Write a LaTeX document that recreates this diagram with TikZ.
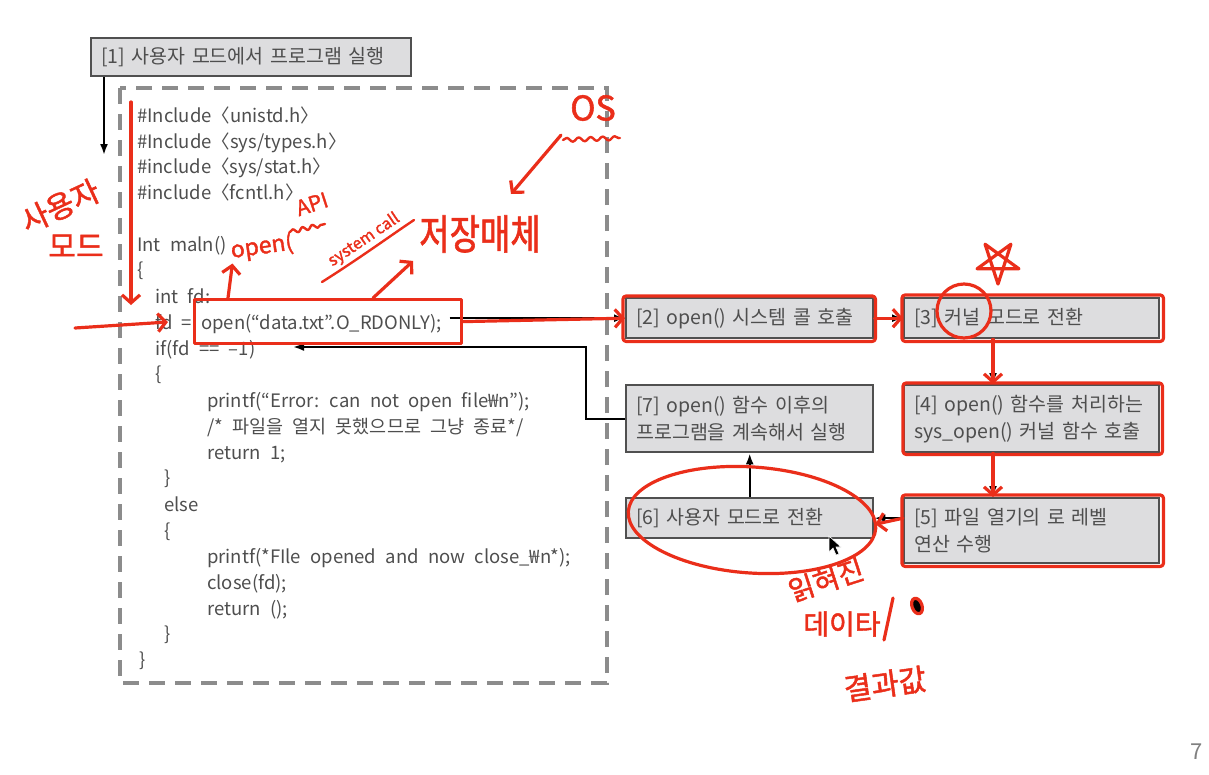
\documentclass[tikz,border=0pt]{standalone}
\usepackage{fontspec}
\setmainfont{Noto Sans CJK KR}
\newfontfamily\handfont[FakeBold=1.6]{Noto Sans CJK KR}
\usetikzlibrary{arrows.meta,decorations.pathmorphing}
\definecolor{boxfill}{RGB}{221,221,223}
\definecolor{boxline}{RGB}{80,80,80}
\definecolor{codegray}{RGB}{78,78,78}
\definecolor{dashgray}{RGB}{140,140,140}
\definecolor{pen}{RGB}{234,46,26}
\newcommand{\widegaps}{\spaceskip=0.5em\relax}
\newcommand{\handsize}[1]{\handfont\fontsize{#1}{#1}\selectfont}

\begin{document}
\begin{tikzpicture}[x=1pt,y=-1pt,
  stepbox/.style={draw=boxline,fill=boxfill,line width=2.4pt,anchor=north west,
    inner xsep=10pt,inner ysep=0pt,align=left,text=codegray,
    font=\fontsize{19.5}{27}\selectfont\widegaps},
  codeline/.style={anchor=base west,inner sep=0pt,text=codegray,
    font=\fontsize{18.5}{20}\selectfont\widegaps},
  flow/.style={line width=2pt,-{Latex[length=11pt,width=8pt]}},
  pen/.style={draw=pen,line width=3.2pt,line cap=round,line join=round},
  penarrow/.style={pen,-{Straight Barb[length=8pt,width=18pt]}},
  scribble/.style={text=pen,inner sep=0pt,font=\handsize{30}}]

\useasboundingbox (0,0) rectangle (1209,774);

\node[stepbox,text width=300pt,minimum height=38pt] (s1) at (90,37) {{[1]} 사용자 모드에서 프로그램 실행};

\draw[dashgray,line width=3.5pt,dash pattern=on 16pt off 10pt] (120,88) rectangle (607,683);

\node[codeline] (c1) at (137,122) {\#Include〈unistd.h〉};
\node[codeline] (c2) at (137,148) {\#Include〈sys/types.h〉};
\node[codeline] (c3) at (137,173) {\#include〈sys/stat.h〉};
\node[codeline] (c4) at (137,199) {\#include〈fcntl.h〉};
\node[codeline] (c5) at (137,251) {Int maln()};
\node[codeline] (c6) at (137,276) {\{};
\node[codeline] (c7) at (155,303) {int fd:};
\node[codeline] (c8) at (155,329) {fd = open(“data.txt”.O\_RDONLY);};
\node[codeline] (c9) at (155,355) {if(fd == --1)};
\node[codeline] (c10) at (155,380) {\{};
\node[codeline] (c11) at (207,407) {printf(“Error: can not open file₩n”);};
\node[codeline] (c12) at (207,433) {/* 파일을 열지 못했으므로 그냥 종료*/};
\node[codeline] (c13) at (207,459) {return 1;};
\node[codeline] (c14) at (164,484) {\}};
\node[codeline] (c15) at (164,511) {else};
\node[codeline] (c16) at (164,537) {\{};
\node[codeline] (c17) at (207,563) {printf(*FIle opened and now close\_₩n*);};
\node[codeline] (c18) at (207,589) {close(fd);};
\node[codeline] (c19) at (207,615) {return ();};
\node[codeline] (c20) at (164,640) {\}};
\node[codeline] (c21) at (139,666) {\}};

\node[stepbox,text width=227pt,minimum height=40pt] (s2) at (625,297) {{[2]} open() 시스템 콜 호출};
\node[stepbox,text width=235pt,minimum height=40pt] (s3) at (903,297) {{[3]} 커널 모드로 전환};
\node[stepbox,text width=227pt,minimum height=67pt] (s7) at (625,384) {{[7]} open() 함수 이후의\\프로그램을 계속해서 실행};
\node[stepbox,text width=235pt,minimum height=67pt] (s4) at (903,384) {{[4]} open() 함수를 처리하는\\sys\_open() 커널 함수 호출};
\node[stepbox,text width=227pt,minimum height=40pt] (s6) at (625,497) {{[6]} 사용자 모드로 전환};
\node[stepbox,text width=235pt,minimum height=65pt] (s5) at (903,497) {{[5]} 파일 열기의 로 레벨\\연산 수행};

\coordinate (modetip) at (104,155);
\coordinate (kx) at (993,0);
\coordinate (iftip) at (293,347);

\draw[flow] (s1.south -| modetip) -- (modetip);
\draw[flow] ([xshift=8pt]c8.east |- s2.west) -- (s2.west);
\draw[flow] (s2) -- (s3);
\draw[flow] (s3.south -| kx) -- (s4.north -| kx);
\draw[flow] (s4.south -| kx) -- (s5.north -| kx);
\draw[flow] (s5.west |- s6.east) -- (s6.east);
\draw[flow] (s6) -- (s7);
\draw[flow] (s7.west) -- ++(-39,0) |- (iftip);

% red pen notes
\node[pen,anchor=north west,minimum width=267pt,minimum height=44pt,inner sep=0pt] (hl) at (193,298) {};
\draw[pen,rounded corners=3pt] ([shift={(-2,-1)}]s2.north west) rectangle ([shift={(1,2)}]s2.south east);
\draw[pen,rounded corners=3pt] ([shift={(-1,-2)}]s3.north west) rectangle ([shift={(3,2)}]s3.south east);
\draw[pen,rounded corners=3pt] ([shift={(0,-1)}]s4.north west) rectangle ([shift={(2,1)}]s4.south east);
\draw[pen,rounded corners=3pt] ([shift={(-1,-2)}]s5.north west) rectangle ([shift={(3,2)}]s5.south east);

\coordinate (utop) at (131,102);
\coordinate (ubot) at (131,305);
\coordinate (ustart) at (75,328);
\coordinate (fdtip) at (168,322);
\draw[penarrow] (utop) -- (ubot);
\draw[penarrow] (ustart) -- (fdtip);
\draw[penarrow] (hl.east) -- (s2.west);
\draw[penarrow] (s2.east) -- (s3.west);
\draw[penarrow] (s3.south -| kx) -- (s4.north -| kx);
\draw[penarrow] (s4.south -| kx) -- (s5.north -| kx);
\draw[penarrow] (s5.west |- s6.east) -- ([shift={(1,6)}]s6.east);

\node[scribble,rotate=25] (umode1) at (60,206) {사용자};
\node[scribble] (umode2) at (76,246) {모드};

\node[scribble,font=\handsize{23},rotate=8] (apiopen) at (262,247) {open(};
\node[scribble,font=\handsize{21},rotate=18] (api) at (312,204) {API};
\draw[pen,line width=2.4pt,decorate,decoration={snake,amplitude=2pt,segment length=10pt}] (290,232) -- (325,224);
\node[scribble,font=\handsize{16},rotate=34] (syscall) at (364,240) {system call};
\draw[pen,line width=2.4pt] (322,282) .. controls (360,258) and (390,236) .. (414,220);
\node[scribble,font=\handsize{33},yscale=1.25] (storage) at (480,234) {저장매체};
\draw[penarrow] ([shift={(35,0)}]hl.north west) -- (apiopen.south west);
\draw[penarrow] ([shift={(180,0)}]hl.north west) -- ([shift={(-6,8)}]storage.south west);

\node[scribble,font=\handsize{34}] (os) at (593,108) {OS};
\draw[pen,line width=2.4pt,decorate,decoration={snake,amplitude=2pt,segment length=12pt}] (563,140) -- (620,138);
\coordinate (ostip) at (511,194);
\draw[penarrow] ([shift={(-32,14)}]os.south) -- (ostip);

\draw[pen] (964,311) ellipse [x radius=27, y radius=27];
\draw[pen] (998,262) +(90:22) -- +(234:22) -- +(18:22) -- +(162:22) -- +(306:22) -- cycle;

\draw[pen,rotate around={-4:(752,520)}] (752,520) ellipse [x radius=124, y radius=53];
\filldraw[fill=black,draw=white,line width=0.6pt] (829,536) -- (829,552) -- (833,548) -- (836,555) -- (839,554) -- (836,547) -- (841,547) -- cycle;

\node[scribble,font=\handsize{28},rotate=18] (readout) at (826,580) {읽혀진};
\node[scribble,font=\handsize{28}] (datum) at (842,624) {데이타};
\draw[pen] (884,640) -- (893,598);
\fill[pen,rotate around={20:(917,606)}] (917,606) ellipse [x radius=5, y radius=8];
\node[scribble,rotate=8] (result) at (885,684) {결과값};

\node[text=gray,font=\fontsize{22}{24}\selectfont] (page) at (1197,752) {7};
\end{tikzpicture}
\end{document}
